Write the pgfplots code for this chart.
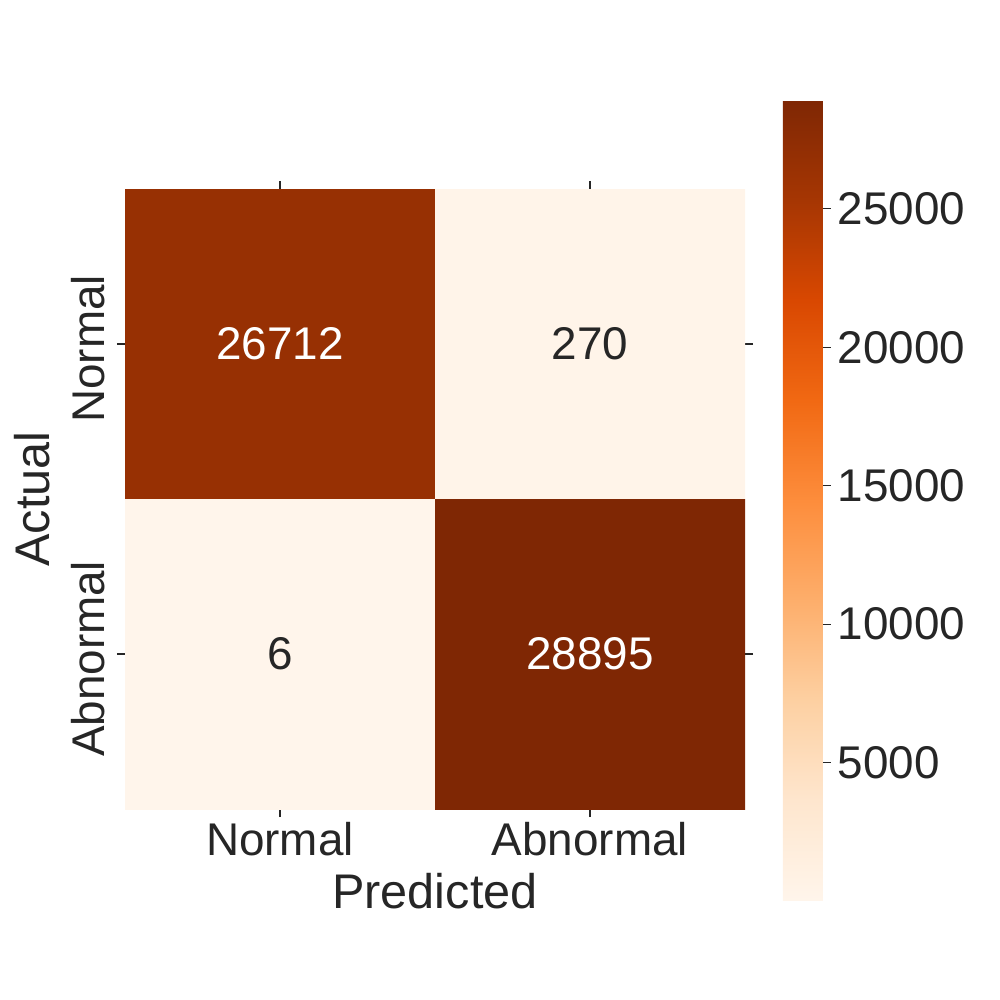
\documentclass[border=0pt]{standalone}
\usepackage{fontspec}
\setmainfont{Liberation Sans}
\usepackage{pgfplots}
\pgfplotsset{compat=1.18}
\definecolor{txt}{HTML}{262626}

\begin{document}
\begin{tikzpicture}
\path[use as bounding box] (-90pt,-137.52pt) rectangle (630pt,582.48pt);
\begin{axis}[
  at={(0,0)}, anchor=south west,
  scale only axis, width=446.4pt, height=446.4pt,
  xmin=-0.5, xmax=1.5, ymin=-0.5, ymax=1.5,
  y dir=reverse,
  xtick={0,1}, xticklabels={Normal,Abnormal},
  ytick={0,1}, yticklabels={Normal,Abnormal},
  xtick pos=both, ytick pos=both,
  xticklabel pos=lower, yticklabel pos=left,
  tick align=outside, major tick length=5.8pt,
  tick style={color=txt, line width=0.9pt},
  axis line style={draw=none},
  ticklabel style={font=\fontsize{33}{36}\selectfont, text=txt},
  yticklabel style={rotate=90, anchor=south, xshift=-3.5pt, yshift=5pt},
  xlabel={Predicted}, ylabel={Actual},
  label style={font=\fontsize{35}{40}\selectfont, text=txt},
  xlabel style={yshift=-5.5pt},
  ylabel style={yshift=8.5pt},
  colormap={oranges}{rgb255=(255,245,235) rgb255=(254,230,206) rgb255=(253,208,162)
    rgb255=(253,174,107) rgb255=(253,141,60) rgb255=(241,105,19) rgb255=(217,72,1)
    rgb255=(166,54,3) rgb255=(127,39,4)},
  point meta min=6, point meta max=28895,
  colorbar,
  colorbar/width=28.8pt,
  colorbar style={
    at={(parent axis.north east)}, anchor=north west,
    xshift=18.7pt, yshift=63.4pt,
    scale only axis, width=28.8pt, height=576pt,
    axis line style={draw=none},
    ytick={5000,10000,15000,20000,25000},
    ytick pos=right, yticklabel pos=right,
    tick align=outside, major tick length=5.8pt,
    tick style={color=txt, line width=0.9pt},
    scaled y ticks=false,
    yticklabel style={/pgf/number format/1000 sep={}, /pgf/number format/fixed,
      /pgf/number format/assume math mode=true, xshift=1.5pt,
      font=\fontsize{33}{36}\selectfont, text=txt},
  },
]
\addplot[matrix plot*, mesh/cols=2, point meta=explicit] table[meta=C] {
x y C
0 0 26712
1 0 270
0 1 6
1 1 28895
};
% cell labels on dark cells
\addplot[draw=none, mark=none, point meta=explicit symbolic, nodes near coords,
  nodes near coords style={anchor=center, text=white, font=\fontsize{33}{36}\selectfont}]
  table[meta=label] {
x y label
0 0 26712
1 1 28895
};
% cell labels on light cells
\addplot[draw=none, mark=none, point meta=explicit symbolic, nodes near coords,
  nodes near coords style={anchor=center, text=txt, font=\fontsize{33}{36}\selectfont}]
  table[meta=label] {
x y label
1 0 270
0 1 6
};
\end{axis}
\end{tikzpicture}
\end{document}
